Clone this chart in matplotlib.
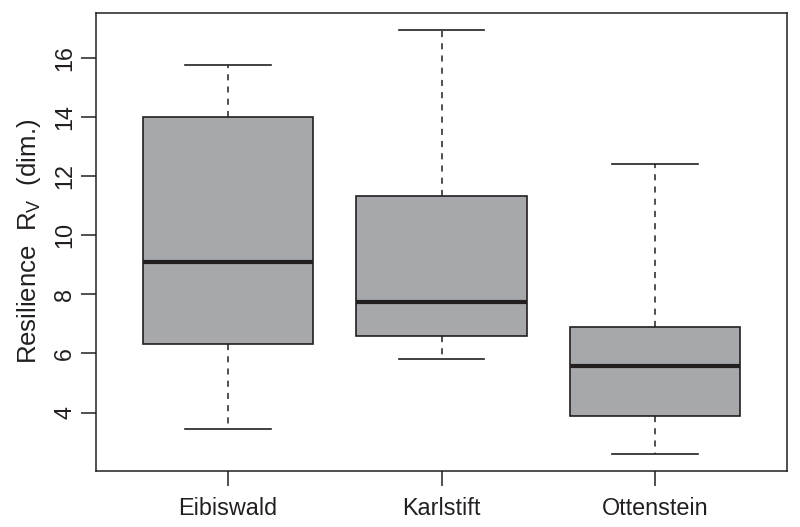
import matplotlib
matplotlib.use("Agg")
import matplotlib.pyplot as plt

plt.rcParams['font.family'] = ['Liberation Sans', 'DejaVu Sans']
plt.rcParams['mathtext.default'] = 'regular'

# Data
sites = ["Eibiswald", "Karlstift", "Ottenstein"]
whisker_high = [15.77, 16.95, 12.42]
q3_values = [13.98, 11.32, 6.90]
medians = [9.10, 7.74, 5.56]
q1_values = [6.32, 6.60, 3.90]
whisker_low = [3.45, 5.80, 2.60]
y_ticks = [4, 6, 8, 10, 12, 14, 16]

edge = "#231f20"
fill = "#a7a8ab"

fig = plt.figure(figsize=(8, 5.27), dpi=100)
ax = fig.add_axes([0.1195, 0.1063, 0.8648, 0.8697])

stats = []
for name, hi, q3, med, q1, lo in zip(sites, whisker_high, q3_values, medians, q1_values, whisker_low):
    stats.append(dict(label=name, whishi=hi, q3=q3, med=med, q1=q1, whislo=lo, fliers=[]))

ax.bxp(stats, positions=[1, 2, 3], widths=0.8, patch_artist=True, showfliers=False,
       boxprops=dict(facecolor=fill, edgecolor=edge, linewidth=1.2),
       medianprops=dict(color=edge, linewidth=3.0, solid_capstyle='butt'),
       whiskerprops=dict(color=edge, linewidth=1.1, linestyle=(0, (4, 4))),
       capprops=dict(color=edge, linewidth=1.2),
       capwidths=0.4)

ymin = min(whisker_low)
ymax = max(whisker_high)
pad = 0.04 * (ymax - ymin)
ax.set_ylim(ymin - pad, ymax + pad)
ax.set_xlim(0.38, 3.62)

ax.set_yticks(y_ticks)
ax.set_yticklabels([str(t) for t in y_ticks], rotation=90, va='center')
ax.set_xticks([1, 2, 3])
ax.set_xticklabels(sites)

ax.tick_params(axis='both', direction='out', length=10.5, width=1.1, color=edge,
               labelsize=16.8, labelcolor=edge)
ax.tick_params(axis='y', pad=3.5)
ax.tick_params(axis='x', pad=8)

for sp in ax.spines.values():
    sp.set_linewidth(1.1)
    sp.set_color(edge)

ax.set_ylabel(r"Resilience  R$_V$  (dim.)", fontsize=18.5, color=edge)
ax.yaxis.set_label_coords(-0.076, 0.5)

fig.savefig("out.png", dpi=100)
